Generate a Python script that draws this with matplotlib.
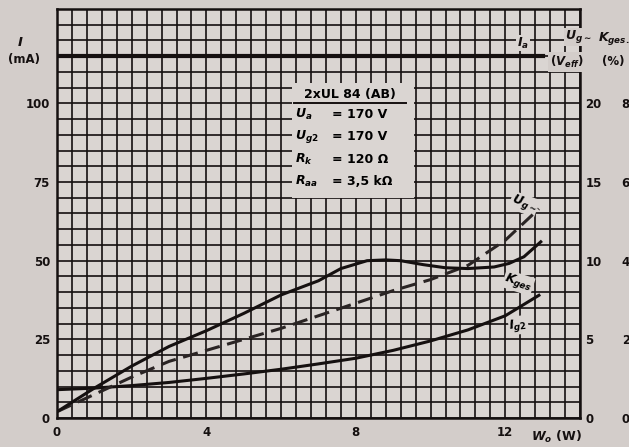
import numpy as np
import matplotlib
matplotlib.use("Agg")
import matplotlib.pyplot as plt
from matplotlib.patches import Rectangle

# output power W_o (W) on x
ia_w = [0, 13.0]
ia_ma = [115, 115]                                   # anode current I_a (mA)

ig2_w = [0, 1, 2, 3, 4, 5, 6, 7, 8, 9, 10, 11, 12, 12.9]
ig2_ma = [9, 9.5, 10.3, 11.3, 12.6, 14, 15.5, 17.2, 19, 21.5, 24.5, 28, 32.5, 39]

ug_w = [0, 1, 2, 3, 4, 5, 6, 7, 8, 9, 10, 11, 12, 12.9]
ug_v = [0.4, 1.5, 2.6, 3.6, 4.3, 5.0, 5.7, 6.5, 7.3, 8.1, 8.8, 9.7, 11.3, 13.3]   # U_g~ (V_eff)

k_w = [0, 1, 2, 3, 4, 5, 6, 7, 7.6, 8.3, 8.8, 9.2, 9.8, 10.4, 11.0, 11.7, 12.1, 12.5, 12.95]
k_pct = [0.16, 0.76, 1.32, 1.82, 2.22, 2.66, 3.13, 3.49, 3.8, 4.0, 4.02, 4.0, 3.9,
         3.82, 3.8, 3.84, 3.93, 4.1, 4.48]             # K_ges (%)

ma_ticks = [0, 25, 50, 75, 100]
w_ticks = [0, 4, 8, 12]
ug_ticks = [0, 5, 10, 15, 20]
k_ticks = [0, 2, 4, 6, 8]

PAPER = "#d3cdca"
CELL = "#dad5d2"
INK = "#151010"

plt.rcParams["font.family"] = ["DejaVu Sans"]
plt.rcParams["font.weight"] = "bold"
plt.rcParams["mathtext.fontset"] = "custom"
plt.rcParams["mathtext.rm"] = "DejaVu Sans:weight=bold"
plt.rcParams["mathtext.bf"] = "DejaVu Sans:weight=bold"
plt.rcParams["mathtext.it"] = "DejaVu Sans:style=oblique:weight=bold"

W, H = 629, 447
fig = plt.figure(figsize=(W / 100, H / 100), dpi=100, facecolor=PAPER)
ax = fig.add_axes([57 / W, 1 - 418 / H, 523 / W, 409 / H])
ax.set_facecolor(CELL)
ax.set_xlim(0, 14)
ax.set_ylim(0, 130)

# the fine grid, 0.4 W by 5 mA
ax.set_xticks(np.arange(0, 14.01, 0.4), minor=True)
ax.set_yticks(np.arange(0, 130.1, 5), minor=True)
ax.set_xticks(w_ticks)
ax.set_yticks(ma_ticks)
ax.grid(which="both", color=INK, lw=1.2)
ax.tick_params(which="both", length=0, labelsize=8.5, colors=INK)
ax.tick_params(axis="x", pad=6)
ax.tick_params(axis="y", pad=5)
for s in ax.spines.values():
    s.set_linewidth(1.8)
    s.set_color(INK)

# cleared panel for the operating data
ax.add_patch(Rectangle((6.3, 70), 3.25, 36.5, facecolor=CELL, edgecolor="none", zorder=2))
ax.plot([6.35, 9.35], [100.2, 100.2], color=INK, lw=1.4, zorder=3)
ax.text(7.85, 102.8, "2xUL 84 (AB)", ha="center", va="center", fontsize=9, zorder=3)
rows = [(r"$U_a$", "170 V", 96.4), (r"$U_{g2}$", "170 V", 89.4),
        (r"$R_k$", "120 Ω", 82.3), (r"$R_{aa}$", "3,5 kΩ", 75.3)]
for name, val, y in rows:
    ax.text(6.38, y, name, ha="left", va="center", fontsize=9, zorder=3)
    ax.text(7.35, y, "=", ha="left", va="center", fontsize=9, zorder=3)
    ax.text(7.75, y, val, ha="left", va="center", fontsize=9, zorder=3)

ax.plot(ia_w, ia_ma, color=INK, lw=3.0, zorder=3)
ax.plot(ig2_w, ig2_ma, color=INK, lw=2.2, zorder=3)

axU = ax.twinx()
axU.set_ylim(0, 26)
axU.set_yticks(ug_ticks)
axU.tick_params(length=0, pad=4, labelsize=8.5, colors=INK)
axU.plot(ug_w, ug_v, color="#2a2424", lw=2.2, ls=(0, (5, 2.5)), zorder=3)

axK = ax.twinx()
axK.set_ylim(0, 10.4)
axK.set_yticks(k_ticks)
axK.tick_params(length=0, pad=30, labelsize=8.5, colors=INK)
axK.plot(k_w, k_pct, color=INK, lw=2.2, zorder=3)
for a in (axU, axK):
    for s in a.spines.values():
        s.set_visible(False)
    a.set_xlim(0, 14)

box = dict(facecolor=CELL, edgecolor="none", pad=0.5)
ax.text(12.5, 68, r"$U_{g\sim}$", ha="center", va="center", fontsize=9, rotation=-20, bbox=box, zorder=4)
ax.text(12.35, 43, r"$K_{ges}$", ha="center", va="center", fontsize=9, rotation=-18, bbox=box, zorder=4)
ax.text(12.35, 29.5, r"$I_{g2}$", ha="center", va="center", fontsize=9, rotation=8, bbox=box, zorder=4)

# headings outside the grid
def ftext(x, y, s, **kw):
    fig.text(x / W, 1 - y / H, s, ha="center", va="center", color=INK, **kw)

ftext(20, 42, r"$I$", fontsize=9.5)
ftext(24, 60, "(mA)", fontsize=8.5)
ftext(523, 43, r"$I_a$", fontsize=9, bbox=dict(facecolor=CELL, edgecolor="none", pad=0.5))
ftext(578, 37, r"$U_{g\sim}$", fontsize=9, bbox=dict(facecolor=PAPER, edgecolor="none", pad=0.5))
ftext(614, 39, r"$K_{ges.}$", fontsize=9)
ftext(567, 62, r"($V_{eff}$)", fontsize=8.5, bbox=dict(facecolor=PAPER, edgecolor="none", pad=1.5))
ftext(613, 62, "(%)", fontsize=8.5)
ftext(556, 437, r"$W_o$ (W)", fontsize=9)

fig.savefig("out.png", dpi=100, facecolor=PAPER)
